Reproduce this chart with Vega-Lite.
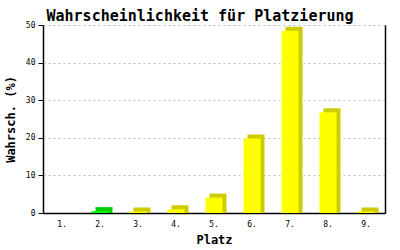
{
  "$schema": "https://vega.github.io/schema/vega-lite/v6.json",
  "autosize": "none",
  "width": 342,
  "height": 188,
  "padding": {"left": 43, "top": 25, "right": 15, "bottom": 37},
  "background": "#FFFFFF",
  "title": {
    "text": "Wahrscheinlichkeit für Platzierung",
    "font": "DejaVu Sans Mono",
    "fontSize": 15,
    "fontWeight": "bold",
    "color": "#000000",
    "anchor": "middle",
    "dx": -14,
    "offset": -3
  },
  "data": {
    "values": [
      {"platz": "1.", "wert": 0, "gruppe": "gelb"},
      {"platz": "2.", "wert": 0.5, "gruppe": "gruen"},
      {"platz": "3.", "wert": 0.4, "gruppe": "gelb"},
      {"platz": "4.", "wert": 1.0, "gruppe": "gelb"},
      {"platz": "5.", "wert": 4.1, "gruppe": "gelb"},
      {"platz": "6.", "wert": 19.8, "gruppe": "gelb"},
      {"platz": "7.", "wert": 48.5, "gruppe": "gelb"},
      {"platz": "8.", "wert": 26.8, "gruppe": "gelb"},
      {"platz": "9.", "wert": 0.4, "gruppe": "gelb"}
    ]
  },
  "config": {
    "view": {"stroke": null},
    "axis": {
      "labelFont": "DejaVu Sans Mono",
      "labelFontSize": 8,
      "labelColor": "#000000",
      "titleFont": "DejaVu Sans Mono",
      "titleFontSize": 12,
      "titleFontWeight": "bold",
      "titleColor": "#000000",
      "domainColor": "#000000",
      "domainWidth": 1.5,
      "tickColor": "#000000"
    }
  },
  "encoding": {
    "x": {
      "field": "platz",
      "type": "ordinal",
      "scale": {"domain": ["1.", "2.", "3.", "4.", "5.", "6.", "7.", "8.", "9."], "paddingInner": 0, "paddingOuter": 0},
      "axis": {
        "title": "Platz",
        "labelAngle": 0,
        "ticks": false,
        "labelPadding": 7,
        "titlePadding": 6
      }
    }
  },
  "layer": [
    {
      "transform": [{"filter": "datum.wert > 0"}],
      "mark": {"type": "bar", "width": 17, "xOffset": 4, "yOffset": -4, "y2Offset": 0},
      "encoding": {
        "y": {
          "field": "wert",
          "type": "quantitative",
          "scale": {"domain": [0, 50], "nice": false},
          "axis": {
            "title": "Wahrsch. (%)",
            "values": [0, 10, 20, 30, 40, 50],
            "tickSize": 5,
            "labelPadding": 3,
            "titlePadding": 8,
            "grid": true,
            "gridColor": "#BBBBBB",
            "gridDash": [2, 3],
            "gridWidth": 1
          }
        },
        "y2": {"datum": 0},
        "color": {
          "field": "gruppe",
          "type": "nominal",
          "scale": {"domain": ["gelb", "gruen"], "range": ["#CCCC00", "#00CC00"]},
          "legend": null
        }
      }
    },
    {
      "mark": {"type": "bar", "width": 17},
      "encoding": {
        "y": {
          "field": "wert",
          "type": "quantitative",
          "scale": {"domain": [0, 50], "nice": false},
          "axis": {
            "orient": "right",
            "title": null,
            "labels": false,
            "ticks": false,
            "grid": false
          }
        },
        "fill": {
          "field": "gruppe",
          "type": "nominal",
          "scale": {"domain": ["gelb", "gruen"], "range": ["#FFFF00", "#00FF00"]},
          "legend": null
        }
      }
    }
  ],
  "resolve": {"axis": {"y": "independent"}, "scale": {"fill": "independent"}}
}
